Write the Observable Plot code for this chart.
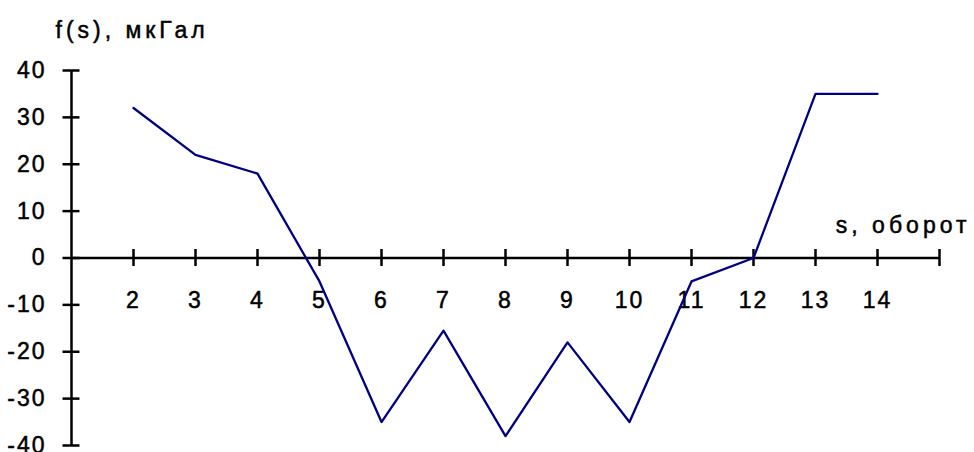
<!DOCTYPE html>
<html>
<head>
<meta charset="utf-8">
<script src="https://cdn.jsdelivr.net/npm/d3@7"></script>
<script src="https://cdn.jsdelivr.net/npm/@observablehq/plot@0.6"></script>
<style>
  html, body { margin: 0; padding: 0; background: #fff; }
  #chart svg { display: block; }
</style>
</head>
<body>
<div id="chart"></div>
<script>
const sValues = [2, 3, 4, 5, 6, 7, 8, 9, 10, 11, 12, 13, 14];
const fValues = [32, 22, 18, -5, -35, -15.5, -38, -18, -35, -5, 0, 35, 35];
const xTickValues = [2, 3, 4, 5, 6, 7, 8, 9, 10, 11, 12, 13, 14, 15];
const xTickLabels = [2, 3, 4, 5, 6, 7, 8, 9, 10, 11, 12, 13, 14];
const yTickValues = [40, 30, 20, 10, 0, -10, -20, -30, -40];
const yTitle = "f(s), мкГал";
const xTitle = "s, оборот";

const data = sValues.map((s, i) => ({s, f: fValues[i]}));

const font = "'Liberation Sans', Arial, sans-serif";

const chart = Plot.plot({
  width: 974,
  height: 452,
  marginLeft: 71,
  marginRight: 35,
  marginTop: 70,
  marginBottom: 7,
  style: {fontFamily: font, background: "#fff", overflow: "visible"},
  x: {type: "linear", domain: [1, 15], axis: null},
  y: {type: "linear", domain: [-40, 40], axis: null},
  marks: [
    // axis lines
    Plot.ruleY([0], {x1: () => 1, x2: () => 15, stroke: "#000", strokeWidth: 2.5}),
    Plot.ruleX([1], {y1: () => -40, y2: () => 40, stroke: "#000", strokeWidth: 2.5}),
    // tick marks crossing the axes
    Plot.ruleX(xTickValues, {x: d => d, y1: () => 0, y2: () => 0, insetTop: -8.5, insetBottom: -8.5, stroke: "#000", strokeWidth: 2.5}),
    Plot.ruleY(yTickValues, {y: d => d, x1: () => 1, x2: () => 1, insetLeft: -8.5, insetRight: -8.5, stroke: "#000", strokeWidth: 2.5}),
    // tick labels
    Plot.text(xTickLabels, {x: d => d, y: () => 0, text: d => String(d), dy: 43, fontSize: 23, fill: "#000", stroke: "#000", strokeWidth: 0.5, textAnchor: "middle", lineAnchor: "middle", className: "num"}),
    Plot.text(yTickValues, {x: () => 1, y: d => d, text: d => String(d), dx: -25, fontSize: 23, fill: "#000", stroke: "#000", strokeWidth: 0.5, textAnchor: "end", lineAnchor: "middle", className: "num"}),
    // data line
    Plot.line(data, {x: "s", y: "f", stroke: "#000080", strokeWidth: 2.3}),
    // axis titles
    Plot.text([yTitle], {frameAnchor: "top-left", text: d => d, dx: -16, dy: -33, fontSize: 23, fill: "#000", stroke: "#000", strokeWidth: 0.5, textAnchor: "start", lineAnchor: "bottom", className: "ttl"}),
    Plot.text([xTitle], {x: () => 15, y: () => 0, text: d => d, dx: 31, dy: -25, fontSize: 23, fill: "#000", stroke: "#000", strokeWidth: 0.5, textAnchor: "end", lineAnchor: "bottom", className: "ttl"})
  ]
});

// wide lettering as in the reference
d3.select(chart).selectAll(".num text").style("letter-spacing", "2px");
d3.select(chart).selectAll(".ttl text").style("letter-spacing", "4px");
document.getElementById("chart").appendChild(chart);
</script>
</body>
</html>
